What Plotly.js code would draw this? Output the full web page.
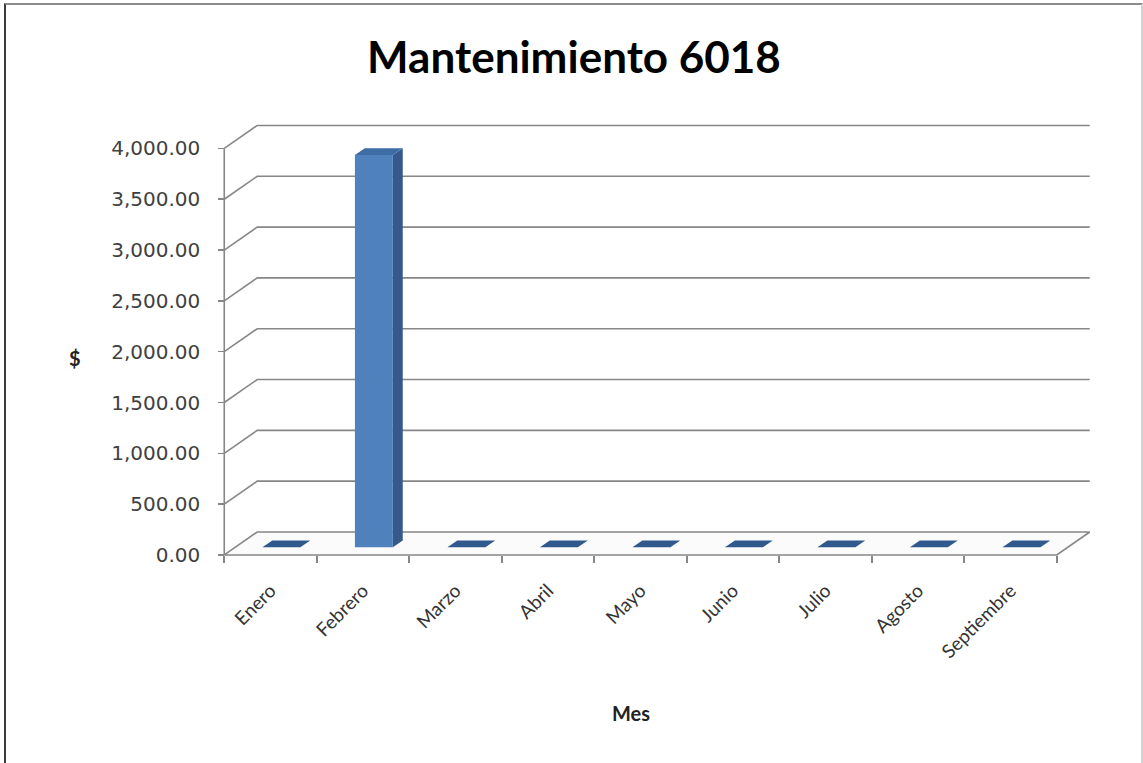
<!DOCTYPE html>
<html>
<head>
<meta charset="utf-8">
<script src="https://cdn.plot.ly/plotly-3.0.1.min.js"></script>
<style>
  html, body { margin: 0; padding: 0; background: #ffffff; }
  #chart { width: 1143px; height: 763px; }
  #frame { position: absolute; left: 4px; top: 3px; width: 1135px; height: 770px;
           border-left: 2px solid #3c3c3c; border-top: 2px solid #8c8c8c; border-right: 2px solid #d4d4d4;
           pointer-events: none; }
</style>
</head>
<body>
<div id="chart"></div>
<div id="frame"></div>
<script>
// ---- data ----
const months = ['Enero', 'Febrero', 'Marzo', 'Abril', 'Mayo', 'Junio', 'Julio', 'Agosto', 'Septiembre'];
const values = [0, 3860, 0, 0, 0, 0, 0, 0, 0];
const yTicks = [0, 500, 1000, 1500, 2000, 2500, 3000, 3500, 4000];
const chartTitle = 'Mantenimiento 6018';
const xTitle = 'Mes';
const yTitle = '$';

// ---- 3D projection settings (style) ----
const DX = 0.3565;   // depth shift in category units
const DY = 226;      // depth shift in value units
const BW = 0.41;     // bar width in category units
const F1 = 0.33, F2 = 0.63; // bar depth fractions
const n = months.length;
const yMax = yTicks[yTicks.length - 1];
const gridColor = '#878787';

const traces = [];
function poly(xs, ys, fill, line, lw) {
  traces.push({
    type: 'scatter', mode: 'lines', x: xs, y: ys,
    fill: 'toself', fillcolor: fill,
    line: { color: line, width: lw === undefined ? 0 : lw },
    hoverinfo: 'skip', showlegend: false
  });
}
function path(xs, ys, color, w) {
  traces.push({
    type: 'scatter', mode: 'lines', x: xs, y: ys,
    line: { color: color, width: w },
    hoverinfo: 'skip', showlegend: false
  });
}

// back walls gridlines
yTicks.forEach(t => {
  if (t === 0) return;
  path([-0.5, -0.5 + DX, n - 0.5 + DX], [t, t + DY, t + DY], gridColor, 1.6);
});
// floor
poly([-0.5, n - 0.5, n - 0.5 + DX, -0.5 + DX, -0.5], [0, 0, DY, DY, 0], '#fbfbfb', gridColor, 1.6);

// bars
values.forEach((v, i) => {
  const xl = i - BW / 2, xr = i + BW / 2;
  const a1x = F1 * DX, a1y = F1 * DY, a2x = F2 * DX, a2y = F2 * DY;
  if (v > 0) {
    // side face
    poly([xr + a1x, xr + a2x, xr + a2x, xr + a1x, xr + a1x],
         [a1y, a2y, v + a2y, v + a1y, a1y], '#34598a');
    // front face
    poly([xl + a1x, xr + a1x, xr + a1x, xl + a1x, xl + a1x],
         [a1y, a1y, v + a1y, v + a1y, a1y], '#4f81bd');
  }
  // top face
  poly([xl + a1x, xr + a1x, xr + a2x, xl + a2x, xl + a1x],
       [v + a1y, v + a1y, v + a2y, v + a2y, v + a1y], v > 0 ? '#3e6da6' : '#30598d');
});

// vertical axis line
path([-0.5, -0.5], [0, yMax], gridColor, 1.6);

// dummy trace for xaxis2 (boundary ticks)
traces.push({ type: 'scatter', mode: 'lines', x: [-0.5], y: [0], xaxis: 'x2',
  line: { width: 0 }, hoverinfo: 'skip', showlegend: false });

// ---- geometry ----
const W = 1143, H = 763;
const pxPerCat = 92.56, pxPerVal = 407 / 4000;
const xFront0 = 224, yBase = 555;
const xr0 = -0.6, xr1 = n - 0.5 + DX + 0.1;
const yr0 = -30, yr1 = yMax + DY + 34;
const mL = xFront0 - (-0.5 - xr0) * pxPerCat;
const mR = W - (xFront0 + (xr1 + 0.5) * pxPerCat);
const mB = H - (yBase + (0 - yr0) * pxPerVal);
const mT = yBase - (yr1 - 0) * pxPerVal;
const plotW = W - mL - mR, plotH = H - mT - mB;
const yAxisPos = (xFront0 - mL) / plotW;
const xAxisPos = ((H - mB) - yBase) / plotH;

const font = 'Lato, "Open Sans", "DejaVu Sans", sans-serif';
const numFont = '"DejaVu Sans", Verdana, sans-serif';
const boundaries = [];
for (let k = 0; k <= n; k++) boundaries.push(k - 0.5);

const layout = {
  width: W, height: H,
  margin: { l: mL, r: mR, t: mT, b: mB, pad: 0 },
  paper_bgcolor: '#ffffff', plot_bgcolor: 'rgba(0,0,0,0)',
  showlegend: false,
  title: { text: '<b>' + chartTitle + '</b>', x: 574 / W, xref: 'container', xanchor: 'center',
           y: 1 - 58 / H, yref: 'container', yanchor: 'middle',
           font: { family: font, size: 44, color: '#000000' } },
  xaxis: {
    range: [xr0, xr1], anchor: 'free', position: xAxisPos,
    tickmode: 'array', tickvals: months.map((m, i) => i), ticktext: months,
    tickangle: -45, ticks: '', ticklabelstandoff: 20,
    showgrid: false, zeroline: false, showline: false,
    tickfont: { family: font, size: 19, color: '#333333' }, fixedrange: true
  },
  xaxis2: {
    overlaying: 'x', matches: 'x', range: [xr0, xr1], anchor: 'free', position: xAxisPos,
    tickmode: 'array', tickvals: boundaries, showticklabels: false,
    ticks: 'outside', ticklen: 7, tickwidth: 1.6, tickcolor: gridColor,
    showgrid: false, zeroline: false, showline: false, fixedrange: true
  },
  yaxis: {
    range: [yr0, yr1], anchor: 'free', position: yAxisPos,
    tickmode: 'array', tickvals: yTicks, tickformat: ',.2f',
    ticks: 'outside', ticklen: 6, tickwidth: 1.6, tickcolor: gridColor,
    ticklabelstandoff: 14,
    showgrid: false, zeroline: false, showline: false,
    tickfont: { family: numFont, size: 20, color: '#404040' }, fixedrange: true
  },
  annotations: [
    { text: '<b>' + yTitle + '</b>', xref: 'paper', yref: 'paper',
      x: (75 - mL) / plotW, y: ((H - mB) - 358) / plotH, xanchor: 'center', yanchor: 'middle',
      showarrow: false, font: { family: font, size: 20, color: '#222222' } },
    { text: '<b>' + xTitle + '</b>', xref: 'paper', yref: 'paper',
      x: (631 - mL) / plotW, y: ((H - mB) - 713) / plotH, xanchor: 'center', yanchor: 'middle',
      showarrow: false, font: { family: font, size: 20, color: '#222222' } }
  ]
};

Plotly.newPlot('chart', traces, layout, { displayModeBar: false, staticPlot: true });
</script>
</body>
</html>
